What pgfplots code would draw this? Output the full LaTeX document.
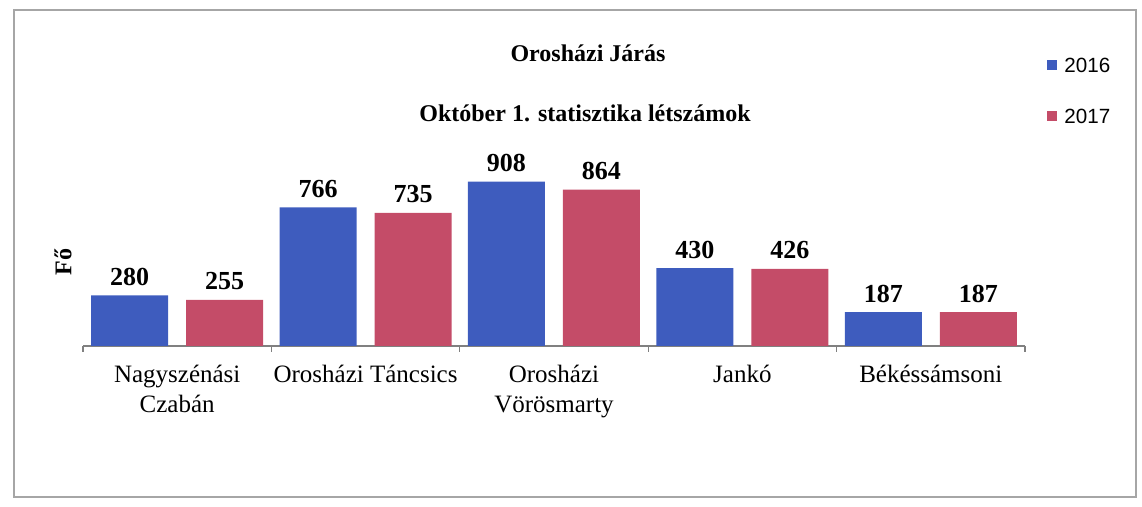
\documentclass[border=0pt]{standalone}
\usepackage{fontspec}
\setmainfont{Liberation Serif}
\newfontfamily\legfont{Liberation Sans}
\usepackage{pgfplots}
\pgfplotsset{compat=1.18}
\definecolor{bar16}{RGB}{62,92,190}
\definecolor{bar17}{RGB}{196,76,104}

\begin{document}
\begin{tikzpicture}
% page size and outer frame
\path (0,0) rectangle (571pt,253.5pt);
\draw[gray!70, line width=0.6pt] (7pt,5pt) rectangle (568pt,248.5pt);

\begin{axis}[
  at={(41.5pt,80.5pt)}, anchor=south west,
  scale only axis, width=471pt, height=90.5pt,
  xmin=-0.5, xmax=4.5, ymin=0, ymax=1000,
  axis x line*=bottom, hide y axis,
  x axis line style={gray, line width=0.6pt},
  ybar=9pt, bar width=38.5pt,
  xtick={0,1,2,3,4},
  xticklabels={Nagyszénási\\Czabán, Orosházi Táncsics, Orosházi\\Vörösmarty, Jankó, Békéssámsoni},
  minor xtick={-0.5,0.5,1.5,2.5,3.5,4.5},
  major tick length=0pt, minor tick length=3pt, tick align=outside,
  minor tick style={gray, line width=0.6pt},
  xticklabel style={align=center, font=\fontsize{12.5}{15}\selectfont, anchor=north, inner sep=0pt, yshift=-9.5pt},
  /pgf/number format/assume math mode=true,
  nodes near coords,
  nodes near coords style={font=\bfseries\fontsize{13}{15}\selectfont, anchor=base, yshift=5pt, black},
  clip=false,
]
\addplot[fill=bar16, draw=none] coordinates {(0,280) (1,766) (2,908) (3,430) (4,187)};
\addplot[fill=bar17, draw=none] coordinates {(0,255) (1,735) (2,864) (3,426) (4,187)};
\end{axis}

% titles
\node[font=\bfseries\fontsize{12}{14}\selectfont] at (294pt,227pt) {Orosházi Járás};
\node[font=\bfseries\fontsize{12}{14}\selectfont] at (292.5pt,197pt) {Október 1. statisztika létszámok};

% y label
\node[rotate=90, font=\bfseries\fontsize{12}{14}\selectfont] at (31.5pt,122.5pt) {Fő};

% legend
\fill[bar16] (523.5pt,218.5pt) rectangle ++(5pt,5pt);
\node[anchor=west, inner sep=0pt, font=\legfont\fontsize{10.3}{12}\selectfont] at (532pt,221pt) {2016};
\fill[bar17] (523.5pt,193pt) rectangle ++(5pt,5pt);
\node[anchor=west, inner sep=0pt, font=\legfont\fontsize{10.3}{12}\selectfont] at (532pt,195.5pt) {2017};
\end{tikzpicture}
\end{document}
